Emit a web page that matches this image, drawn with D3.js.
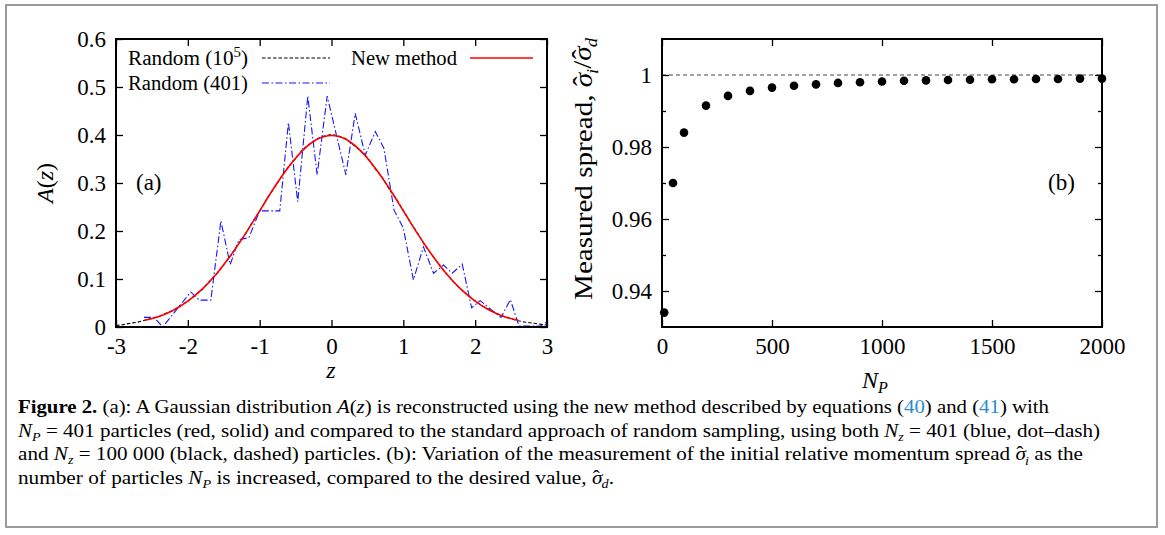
<!DOCTYPE html>
<html>
<head>
<meta charset="utf-8">
<script src="https://cdn.jsdelivr.net/npm/d3@7"></script>
<style>
  body { margin: 0; background: #fff; }
  svg text { font-family: "Liberation Serif", "DejaVu Serif", serif; }
</style>
</head>
<body>
<script>
// panel (a): random sampling with 10^5 particles (black dashed)
var blackZ = [-3.0,-2.9,-2.8,-2.7,-2.6,-2.5,-2.4,-2.3,-2.2,-2.1,-2.0,-1.9,-1.8,-1.7,-1.6,-1.5,-1.4,-1.3,-1.2,-1.1,-1.0,
  -0.9,-0.8,-0.7,-0.6,-0.5,-0.4,-0.3,-0.2,-0.1,0.0,0.1,0.2,0.3,0.4,0.5,0.6,0.7,0.8,0.9,1.0,
  1.1,1.2,1.3,1.4,1.5,1.6,1.7,1.8,1.9,2.0,2.1,2.2,2.3,2.4,2.5,2.6,2.7,2.8,2.9,3.0];
var blackA = [0.003,0.005,0.008,0.010,0.014,0.018,0.022,0.029,0.035,0.045,0.054,0.066,0.078,0.095,0.110,0.130,0.149,0.172,0.193,0.219,0.241,
  0.267,0.289,0.313,0.334,0.351,0.370,0.382,0.392,0.398,0.401,0.398,0.392,0.380,0.367,0.353,0.331,0.313,0.288,0.267,0.243,
  0.218,0.195,0.170,0.150,0.129,0.111,0.094,0.079,0.066,0.054,0.044,0.036,0.028,0.022,0.017,0.013,0.010,0.008,0.006,0.004];

// random sampling with 401 particles (blue, dot-dash)
var blueZ = [-2.61,-2.47,-2.35,-1.96,-1.84,-1.68,-1.54,-1.41,-1.29,-1.15,-1.00,-0.72,-0.60,-0.47,-0.33,-0.20,-0.06,
  0.20,0.33,0.47,0.61,0.73,0.87,1.00,1.14,1.28,1.42,1.56,1.68,1.82,1.95,2.07,2.19,2.36,2.49,2.61,2.91,3.00];
var blueA = [0.020,0.020,0.000,0.073,0.056,0.056,0.221,0.130,0.182,0.186,0.242,0.242,0.426,0.261,0.481,0.317,0.481,
  0.317,0.445,0.358,0.407,0.372,0.244,0.206,0.098,0.167,0.112,0.129,0.112,0.131,0.040,0.055,0.040,0.020,0.057,0.002,0.002,0.011];

// new method, 401 particles (red, solid)
var redZ = [-2.6,-2.4,-2.2,-2.0,-1.8,-1.6,-1.4,-1.2,-1.0,-0.8,-0.6,-0.4,-0.2,0,0.2,0.4,0.6,0.8,1.0,1.2,1.4,1.6,1.8,2.0,2.2,2.4,2.6];
var redA = [0.014,0.022,0.035,0.054,0.079,0.111,0.150,0.194,0.242,0.290,0.333,0.368,0.391,0.399,0.391,0.368,0.333,0.290,0.242,0.194,0.150,0.111,0.079,0.054,0.035,0.022,0.014];

// panel (b): measured spread vs number of particles
var npVals = [10,50,100,200,300,400,500,600,700,800,900,1000,1100,1200,1300,1400,1500,1600,1700,1800,1900,2000];
var spread = [0.934,0.970,0.984,0.9915,0.9942,0.9956,0.9965,0.9970,0.9974,0.9978,0.9980,0.9982,0.9984,0.9985,0.9986,0.9987,0.9988,0.9988,0.9989,0.9989,0.9990,0.9990];

var zTicks = [-3,-2,-1,0,1,2,3];
var aTicks = [0,0.1,0.2,0.3,0.4,0.5,0.6];
var npTicks = [0,500,1000,1500,2000];
var spTicks = [0.94,0.96,0.98,1];
var spMinor = [0.95,0.97,0.99];

var W = 1165, H = 535;
var svg = d3.select("body").append("svg").attr("width", W).attr("height", H);

// outer figure frame
svg.append("rect").attr("x", 6).attr("y", 5).attr("width", 1151).attr("height", 522)
  .attr("fill", "none").attr("stroke", "#9a9a9a").attr("stroke-width", 2);

function frameAxes(g, x, y, xt, yt, xfmt, yfmt, yminor) {
  var x0 = x.range()[0], x1 = x.range()[1], y0 = y.range()[0], y1 = y.range()[1];
  g.append("g").attr("transform", "translate(0," + y0 + ")")
    .call(d3.axisBottom(x).tickValues(xt).tickSize(-7).tickPadding(11).tickFormat(xfmt));
  g.append("g").attr("transform", "translate(0," + y1 + ")")
    .call(d3.axisTop(x).tickValues(xt).tickSize(-7).tickFormat(""));
  g.append("g").attr("transform", "translate(" + x0 + ",0)")
    .call(d3.axisLeft(y).tickValues(yt).tickSize(-7).tickPadding(10).tickFormat(yfmt));
  g.append("g").attr("transform", "translate(" + x1 + ",0)")
    .call(d3.axisRight(y).tickValues(yt).tickSize(-7).tickFormat(""));
  if (yminor) {
    g.append("g").attr("transform", "translate(" + x0 + ",0)")
      .call(d3.axisLeft(y).tickValues(yminor).tickSize(-4).tickFormat(""));
    g.append("g").attr("transform", "translate(" + x1 + ",0)")
      .call(d3.axisRight(y).tickValues(yminor).tickSize(-4).tickFormat(""));
  }
  g.selectAll(".domain").remove();
  g.selectAll(".tick line").attr("stroke", "#000").attr("stroke-width", 1.3);
  g.selectAll(".tick text").attr("font-size", 23).attr("fill", "#000")
    .style("font-family", "'Liberation Serif', serif");
  g.append("rect").attr("x", x0).attr("y", y1).attr("width", x1 - x0).attr("height", y0 - y1)
    .attr("fill", "none").attr("stroke", "#000").attr("stroke-width", 2);
}

// sigma with a hat drawn as two glyphs, then an italic subscript
function sigmaHat(t, fs, subText, subFs) {
  t.append("tspan").attr("font-style", "italic").text("\u03C3");
  t.append("tspan").attr("dx", -0.45 * fs).attr("dy", -0.05 * fs).text("\u02C6");
  t.append("tspan").attr("font-style", "italic").attr("font-size", subFs)
    .attr("dx", 0.08 * fs).attr("dy", 0.05 * fs + 0.25 * fs).text(subText);
}

// ---------- panel (a)
var x = d3.scaleLinear().domain([-3, 3]).range([116, 547]);
var y = d3.scaleLinear().domain([0, 0.6]).range([327, 39]);
var ga = svg.append("g");

var line = d3.line().x(function(d) { return x(d[0]); }).y(function(d) { return y(d[1]); });

ga.append("path").datum(d3.zip(blueZ, blueA)).attr("d", line)
  .attr("fill", "none").attr("stroke", "#1515ff").attr("stroke-width", 1.1)
  .attr("stroke-dasharray", "7,2.5,1.5,2.5");
ga.append("path").datum(d3.zip(blackZ, blackA)).attr("d", line)
  .attr("fill", "none").attr("stroke", "#000").attr("stroke-width", 1.1)
  .attr("stroke-dasharray", "3.5,2");
ga.append("path").datum(d3.zip(redZ, redA)).attr("d", line.curve(d3.curveCatmullRom))
  .attr("fill", "none").attr("stroke", "#f00").attr("stroke-width", 1.6);

frameAxes(ga, x, y, zTicks, aTicks, d3.format("d"), function(d) { return d === 0 ? "0" : d3.format(".1f")(d); });
ga.selectAll(".tick text").text(function() { return this.textContent.replace("\u2212", "-"); });

// legend
var leg = ga.append("g").attr("font-size", 20);
var t1 = leg.append("text").attr("x", 248).attr("y", 65).attr("text-anchor", "end")
  .attr("textLength", 120).attr("lengthAdjust", "spacingAndGlyphs");
t1.append("tspan").text("Random (10");
t1.append("tspan").attr("font-size", 14).attr("dy", -8).text("5");
t1.append("tspan").attr("dy", 8).text(")");
leg.append("text").attr("x", 248).attr("y", 90).attr("text-anchor", "end")
  .attr("textLength", 120).attr("lengthAdjust", "spacingAndGlyphs").text("Random (401)");
leg.append("text").attr("x", 457).attr("y", 65).attr("text-anchor", "end")
  .attr("textLength", 106).attr("lengthAdjust", "spacingAndGlyphs").text("New method");
leg.append("line").attr("x1", 262).attr("x2", 330).attr("y1", 58).attr("y2", 58)
  .attr("stroke", "#000").attr("stroke-width", 1.1).attr("stroke-dasharray", "3.5,2");
leg.append("line").attr("x1", 262).attr("x2", 330).attr("y1", 83).attr("y2", 83)
  .attr("stroke", "#1515ff").attr("stroke-width", 1.1).attr("stroke-dasharray", "7,2.5,1.5,2.5");
leg.append("line").attr("x1", 470).attr("x2", 533).attr("y1", 58).attr("y2", 58)
  .attr("stroke", "#f00").attr("stroke-width", 1.6);

ga.append("text").attr("x", 136).attr("y", 190).attr("font-size", 23).text("(a)");

// axis titles
var ya = ga.append("text").attr("transform", "translate(53,183) rotate(-90)")
  .attr("text-anchor", "middle").attr("font-size", 24);
ya.append("tspan").attr("font-style", "italic").text("A");
ya.append("tspan").text("(");
ya.append("tspan").attr("font-style", "italic").text("z");
ya.append("tspan").text(")");
ga.append("text").attr("x", 331).attr("y", 378).attr("text-anchor", "middle")
  .attr("font-size", 24).attr("font-style", "italic").text("z");

// ---------- panel (b)
var x2 = d3.scaleLinear().domain([0, 2000]).range([662, 1102]);
var y2 = d3.scaleLinear().domain([0.93, 1.01]).range([327, 39]);
var gb = svg.append("g");

gb.append("line").attr("x1", x2(0)).attr("x2", x2(2000)).attr("y1", y2(1)).attr("y2", y2(1))
  .attr("stroke", "#444").attr("stroke-width", 1.1).attr("stroke-dasharray", "4,3");

frameAxes(gb, x2, y2, npTicks, spTicks, d3.format("d"), function(d) { return d === 1 ? "1" : d3.format(".2f")(d); }, spMinor);

gb.selectAll("circle.pt").data(d3.zip(npVals, spread)).enter().append("circle")
  .attr("class", "pt")
  .attr("cx", function(d) { return x2(d[0]); })
  .attr("cy", function(d) { return y2(d[1]); })
  .attr("r", 4.3).attr("fill", "#000");

gb.append("text").attr("x", 1048).attr("y", 190).attr("font-size", 23).text("(b)");

var yb = gb.append("text").attr("transform", "translate(592,169) rotate(-90)")
  .attr("text-anchor", "middle").attr("font-size", 25)
  .attr("textLength", 262).attr("lengthAdjust", "spacingAndGlyphs");
yb.append("tspan").text("Measured spread, ");
sigmaHat(yb, 25, "i", 16);
yb.append("tspan").attr("dy", -7.5).text("/");
sigmaHat(yb, 25, "d", 16);

var xb = gb.append("text").attr("x", 875).attr("y", 388).attr("text-anchor", "middle").attr("font-size", 24);
xb.append("tspan").attr("font-style", "italic").text("N");
xb.append("tspan").attr("font-style", "italic").attr("font-size", 16).attr("dy", 5).text("P");

// ---------- caption
var capLines = [
  [["b", "Figure 2."], ["", " (a): A Gaussian distribution "], ["i", "A"], ["", "("], ["i", "z"], ["", ") is reconstructed using the new method described by equations ("],
   ["l", "40"], ["", ") and ("], ["l", "41"], ["", ") with"]],
  [["i", "N"], ["s", "P"], ["", " = 401 particles (red, solid) and compared to the standard approach of random sampling, using both "], ["i", "N"], ["s", "z"], ["", " = 401 (blue, dot\u2013dash)"]],
  [["", "and "], ["i", "N"], ["s", "z"], ["", " = 100 000 (black, dashed) particles. (b): Variation of the measurement of the initial relative momentum spread "], ["h", "i"], ["", " as the"]],
  [["", "number of particles "], ["i", "N"], ["s", "P"], ["", " is increased, compared to the desired value, "], ["h", "d"], ["", "."]]
];
var capWidths = [1031, 1082, 1065, 596];

capLines.forEach(function(parts, i) {
  var t = svg.append("text").attr("x", 18).attr("y", 413 + i * 23.5)
    .attr("font-size", 18).attr("fill", "#000")
    .attr("textLength", capWidths[i]).attr("lengthAdjust", "spacingAndGlyphs");
  var sub = 0;
  parts.forEach(function(p) {
    if (p[0] === "h") {
      sigmaHat(t, 18, p[1], 12);
      sub = 0.25 * 18;
      return;
    }
    var s = t.append("tspan").text(p[1]);
    if (p[0] === "b") s.attr("font-weight", "bold");
    if (p[0] === "i") s.attr("font-style", "italic");
    if (p[0] === "l") s.attr("fill", "#2a8ccb");
    if (p[0] === "s") { s.attr("font-style", "italic").attr("font-size", 12).attr("dy", 4); sub = 4; }
    else if (sub) { s.attr("dy", -sub); sub = 0; }
  });
});
</script>
</body>
</html>
